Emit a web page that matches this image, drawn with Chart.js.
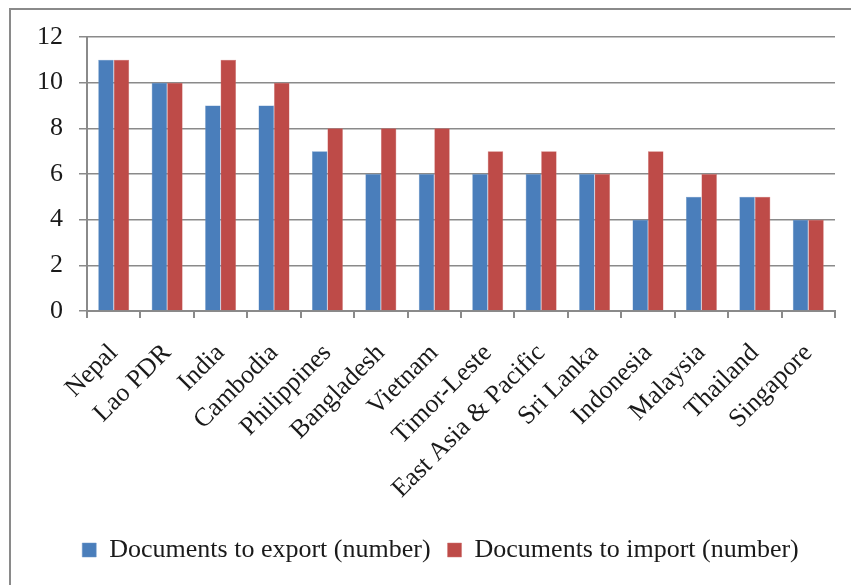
<!DOCTYPE html>
<html>
<head>
<meta charset="utf-8">
<script src="https://cdn.jsdelivr.net/npm/chart.js@4/dist/chart.umd.min.js"></script>
<style>
  html, body { margin: 0; padding: 0; background: #fff; overflow: hidden; }
  #wrap { position: relative; width: 851px; height: 585px; }
  #frame { position: absolute; left: 9px; top: 8px; width: 900px; height: 700px; border: 2px solid #8a8a8a; box-sizing: border-box; }
  #chart { position: absolute; left: 0; top: 0; }
</style>
</head>
<body>
<div id="wrap">
  <div id="frame"></div>
  <canvas id="chart" width="851" height="585"></canvas>
</div>
<script>
const countries = ['Nepal', 'Lao PDR', 'India', 'Cambodia', 'Philippines', 'Bangladesh', 'Vietnam',
  'Timor-Leste', 'East Asia & Pacific', 'Sri Lanka', 'Indonesia', 'Malaysia', 'Thailand', 'Singapore'];
const exportDocs = [11, 10, 9, 9, 7, 6, 6, 6, 6, 6, 4, 5, 5, 4];
const importDocs = [11, 10, 11, 10, 8, 8, 8, 7, 7, 6, 7, 6, 5, 4];
const yTicks = [0, 2, 4, 6, 8, 10, 12];

const gridGrey = '#8a8a8a';
const serif = "'Liberation Serif', 'Times New Roman', serif";

// the legend in the original sits a little right of the canvas centre
const legendShift = {
  id: 'legendShift',
  afterLayout(chart) {
    chart.legend.left += 23;
    chart.legend.right += 23;
  }
};

new Chart(document.getElementById('chart'), {
  type: 'bar',
  data: {
    labels: countries,
    datasets: [
      {
        label: 'Documents to export (number)',
        data: exportDocs,
        backgroundColor: '#4a7ebb',
        borderColor: '#6a95c8',
        borderWidth: 0.5
      },
      {
        label: 'Documents to import (number)',
        data: importDocs,
        backgroundColor: '#be4b48',
        borderColor: '#d07472',
        borderWidth: 0.5
      }
    ]
  },
  plugins: [legendShift],
  options: {
    responsive: false,
    animation: false,
    layout: {
      padding: { top: 37, right: 16, left: 0, bottom: 12 }
    },
    datasets: {
      bar: { categoryPercentage: 0.58, barPercentage: 1 }
    },
    plugins: {
      legend: {
        position: 'bottom',
        labels: {
          color: '#1a1a1a',
          font: { family: serif, size: 26 },
          boxWidth: 14,
          boxHeight: 14,
          padding: 17
        }
      },
      tooltip: { enabled: false }
    },
    scales: {
      x: {
        afterFit: scale => { scale.height = 209; },
        grid: {
          drawOnChartArea: false,
          drawTicks: true,
          tickLength: 7,
          color: gridGrey,
          lineWidth: 2
        },
        border: { color: gridGrey, width: 2 },
        ticks: {
          color: '#1a1a1a',
          font: { family: serif, size: 26 },
          maxRotation: 45,
          minRotation: 45,
          autoSkip: false,
          padding: 20
        }
      },
      y: {
        min: 0,
        max: 12,
        afterFit: scale => { scale.width = 87; },
        afterBuildTicks: scale => { scale.ticks = yTicks.map(v => ({ value: v })); },
        grid: {
          color: gridGrey,
          lineWidth: 1.5,
          tickLength: 8
        },
        border: { color: gridGrey, width: 2 },
        ticks: {
          color: '#1a1a1a',
          font: { family: serif, size: 26 },
          padding: 16
        }
      }
    }
  }
});
</script>
</body>
</html>
